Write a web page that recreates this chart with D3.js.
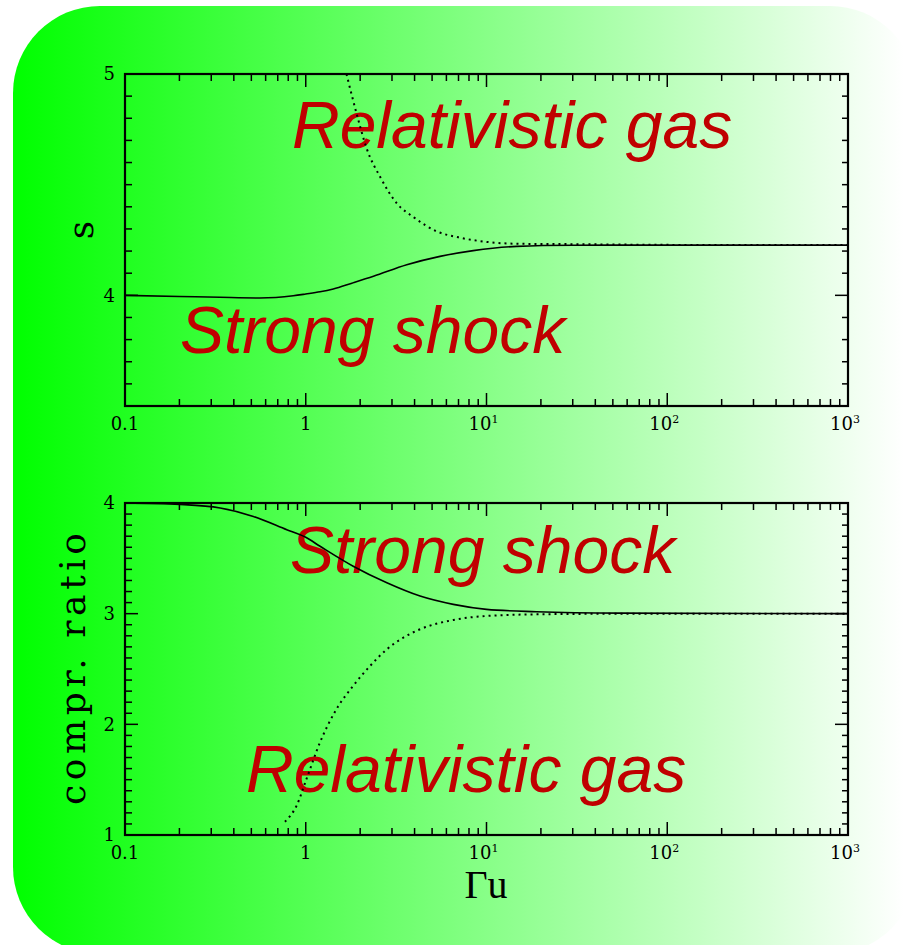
<!DOCTYPE html>
<html>
<head>
<meta charset="utf-8">
<script src="https://cdn.jsdelivr.net/npm/d3@7"></script>
<style>
  html, body { margin: 0; padding: 0; background: #ffffff; }
  svg { display: block; }
</style>
</head>
<body>
<svg id="chart" width="904" height="945"></svg>
<script>
// Upper panel: spectral index s versus Γu
const sSolidX = [0.1, 0.2, 0.336, 0.558, 0.853, 1.0, 1.2, 1.42, 1.8, 2.37, 3.62, 5.53, 8.45, 14.7, 30, 100, 1000];
const sSolidY = [4.0, 3.995, 3.991, 3.988, 3.998, 4.006, 4.016, 4.029, 4.055, 4.086, 4.138, 4.176, 4.202, 4.221, 4.226, 4.227, 4.227];
const sDotX = [1.68, 1.91, 2.17, 2.6, 3.18, 4.0, 5.3, 7.0, 10.4, 14.7, 32.9, 100, 1000];
const sDotY = [5.0, 4.822, 4.665, 4.53, 4.417, 4.35, 4.289, 4.262, 4.24, 4.233, 4.231, 4.228, 4.227];

// Lower panel: compression ratio versus Γu
const rSolidX = [0.1, 0.201, 0.336, 0.513, 0.785, 1.0, 1.2, 1.83, 2.81, 4.29, 6.55, 10, 18.9, 54.8, 1000];
const rSolidY = [4.0, 3.987, 3.955, 3.879, 3.759, 3.69, 3.609, 3.429, 3.279, 3.159, 3.084, 3.039, 3.018, 3.005, 3.0];
const rDotX = [0.767, 0.891, 1.01, 1.2, 1.48, 1.83, 2.27, 2.81, 3.47, 4.29, 6.55, 10, 18.9, 50, 1000];
const rDotY = [1.12, 1.267, 1.507, 1.838, 2.138, 2.348, 2.528, 2.678, 2.784, 2.859, 2.943, 2.979, 2.994, 2.999, 3.0];

// Axis settings and labels
const xDomain = [0.1, 1000];
const xTickValues = [0.1, 1, 10, 100, 1000];
const xTickBase = ["0.1", "1", "10", "10", "10"];
const xTickSup = ["", "", "1", "2", "3"];
const sDomain = [3.5, 5];
const sTickLabels = [4, 5];
const rDomain = [1, 4];
const rTickLabels = [1, 2, 3, 4];
const panelTexts = {
  top: ["Relativistic gas", "Strong shock"],
  bottom: ["Strong shock", "Relativistic gas"]
};

const svg = d3.select("#chart");
const defs = svg.append("defs");

// Rounded backdrop with a green-to-white horizontal fade
const grad = defs.append("linearGradient")
  .attr("id", "bgGrad").attr("gradientUnits", "userSpaceOnUse")
  .attr("x1", 13).attr("x2", 904).attr("y1", 0).attr("y2", 0);
grad.append("stop").attr("offset", 0).attr("stop-color", "#00ff00");
grad.append("stop").attr("offset", 1).attr("stop-color", "#ffffff");

svg.append("rect")
  .attr("x", 13).attr("y", 6).attr("width", 904).attr("height", 948)
  .attr("rx", 87).attr("ry", 87)
  .attr("fill", "url(#bgGrad)");

const plotLeft = 125, plotRight = 848;
const x = d3.scaleLog().domain(xDomain).range([plotLeft, plotRight]);

const tickFont = "'DejaVu Serif', 'Liberation Serif', serif";
const titleFont = "'DejaVu Serif', 'Liberation Serif', serif";
const red = "#c00000";

function isInt(v) { return Math.abs(v - Math.round(v)) < 1e-6; }
function isDecade(v) { return isInt(Math.log10(v)); }

function drawPanel(id, top, bottom, yDomain, yLabels, solid, dotted, texts) {
  const y = d3.scaleLinear().domain(yDomain).range([bottom, top]);
  const g = svg.append("g");

  // clip region for the curves
  defs.append("clipPath").attr("id", "clip-" + id)
    .append("rect").attr("x", plotLeft).attr("y", top)
    .attr("width", plotRight - plotLeft).attr("height", bottom - top);

  // red annotations (drawn under the curves)
  texts.forEach(t => {
    g.append("text")
      .attr("x", t.x).attr("y", t.y)
      .attr("font-family", "'Liberation Sans', Arial, sans-serif")
      .attr("font-style", "italic")
      .attr("font-size", 66)
      .attr("fill", red)
      .text(t.label);
  });

  const line = d3.line().x(d => x(d[0])).y(d => y(d[1])).curve(d3.curveMonotoneX);
  const curves = g.append("g").attr("clip-path", `url(#clip-${id})`);

  curves.append("path")
    .datum(d3.zip(dotted[0], dotted[1]))
    .attr("d", line)
    .attr("fill", "none").attr("stroke", "#000")
    .attr("stroke-width", 2).attr("stroke-dasharray", "2,4");

  curves.append("path")
    .datum(d3.zip(solid[0], solid[1]))
    .attr("d", line)
    .attr("fill", "none").attr("stroke", "#000")
    .attr("stroke-width", 1.6);

  // x ticks (inward, top and bottom)
  const xTicks = x.ticks();
  const tk = g.append("g").attr("stroke", "#000").attr("stroke-width", 1.5);
  xTicks.forEach(v => {
    const len = isDecade(v) ? 13 : 7;
    const px = x(v);
    tk.append("line").attr("x1", px).attr("x2", px).attr("y1", bottom).attr("y2", bottom - len);
    tk.append("line").attr("x1", px).attr("x2", px).attr("y1", top).attr("y2", top + len);
  });

  // y ticks every 0.1, longer at whole numbers (inward, both sides)
  const n = Math.round((yDomain[1] - yDomain[0]) / 0.1);
  const yTicks = y.ticks(n);
  yTicks.forEach(v => {
    const len = isInt(v) ? 13 : 7;
    const py = y(v);
    tk.append("line").attr("x1", plotLeft).attr("x2", plotLeft + len).attr("y1", py).attr("y2", py);
    tk.append("line").attr("x1", plotRight).attr("x2", plotRight - (isInt(v) ? 13 : 6)).attr("y1", py).attr("y2", py);
  });

  // frame
  g.append("rect")
    .attr("x", plotLeft).attr("y", top)
    .attr("width", plotRight - plotLeft).attr("height", bottom - top)
    .attr("fill", "none").attr("stroke", "#000").attr("stroke-width", 2.2);

  // y tick labels
  yLabels.forEach(v => {
    g.append("text")
      .attr("x", 115).attr("y", y(v))
      .attr("dy", "0.36em")
      .attr("text-anchor", "end")
      .attr("font-family", tickFont).attr("font-size", 18)
      .attr("fill", "#000")
      .text(v);
  });

  // x tick labels
  xTickValues.forEach((v, i) => {
    const t = g.append("text")
      .attr("x", x(v) + (xTickSup[i] ? -3 : 0)).attr("y", bottom + 24)
      .attr("text-anchor", "middle")
      .attr("font-family", tickFont).attr("font-size", 18)
      .attr("fill", "#000");
    t.append("tspan").text(xTickBase[i]);
    if (xTickSup[i]) {
      t.append("tspan").attr("dy", -7).attr("font-size", 11).text(xTickSup[i]);
    }
  });

  return { g, y };
}

const topPanel = drawPanel("s", 74, 406, sDomain, sTickLabels,
  [sSolidX, sSolidY], [sDotX, sDotY],
  [{ label: panelTexts.top[0], x: 292, y: 148 }, { label: panelTexts.top[1], x: 180, y: 353 }]);

const botPanel = drawPanel("r", 503, 835, rDomain, rTickLabels,
  [rSolidX, rSolidY], [rDotX, rDotY],
  [{ label: panelTexts.bottom[0], x: 290, y: 573 }, { label: panelTexts.bottom[1], x: 246, y: 792 }]);

// axis titles
svg.append("text")
  .attr("transform", "translate(93,230) rotate(-90)")
  .attr("text-anchor", "middle")
  .attr("font-family", titleFont).attr("font-size", 36)
  .attr("fill", "#000")
  .text("s");

svg.append("text")
  .attr("transform", "translate(85,669) rotate(-90)")
  .attr("text-anchor", "middle")
  .attr("font-family", titleFont).attr("font-size", 36)
  .attr("textLength", 272).attr("lengthAdjust", "spacing")
  .attr("fill", "#000")
  .text("compr. ratio");

svg.append("text")
  .attr("x", 486).attr("y", 898)
  .attr("text-anchor", "middle")
  .attr("font-family", "'Liberation Serif', 'DejaVu Serif', serif").attr("font-size", 40)
  .attr("fill", "#000")
  .text("Γu");
</script>
</body>
</html>
